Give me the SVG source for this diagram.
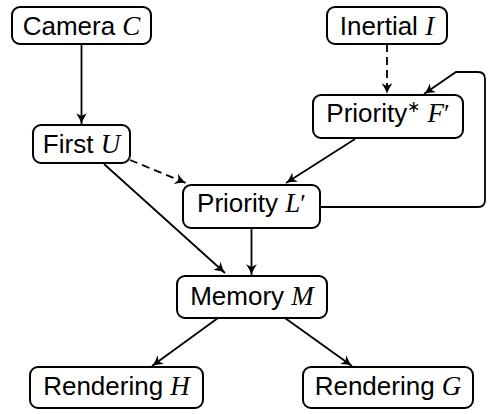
<svg xmlns="http://www.w3.org/2000/svg" width="493" height="414" viewBox="0 0 493 414">
<style>
.box{fill:#fff;stroke:#000;stroke-width:2}
.t{font-family:"Liberation Sans",Arial,sans-serif;font-size:26px;fill:#000;text-anchor:middle}
.m{font-family:"Liberation Serif","Times New Roman",serif;font-style:italic;font-size:27px}
.p{font-family:"Liberation Serif","Times New Roman",serif;font-style:normal}
.e{fill:none;stroke:#000;stroke-width:1.8;marker-end:url(#ah)}
.d{stroke-dasharray:8 5}
</style>
<defs>
<marker id="ah" markerWidth="13" markerHeight="12" refX="10" refY="5" orient="auto" markerUnits="userSpaceOnUse" viewBox="0 0 12 10">
<path d="M0,0 Q6,4 10,5 Q6,6 0,10 L2.5,5 Z" fill="#000"/>
</marker>
</defs>
<g id="connectors">
<path class="e" d="M81.5,44 V124"/>
<path class="e d" d="M387,44 V94"/>
<path class="e" d="M320,207 H478 Q485,207 485,200 V79 Q485,72 478,72 H456 L424,94"/>
<path class="e" d="M355,139 L286,183"/>
<path class="e d" d="M130,160 L186,183"/>
<path class="e" d="M104,164 L225,273"/>
<path class="e" d="M251.5,228 V275"/>
<path class="e" d="M218,318 L152,366"/>
<path class="e" d="M285,318 L352,366"/>
</g>
<g id="camera">
<rect class="box" x="12" y="7" width="139" height="37" rx="8"/>
<text class="t" x="81.5" y="35">Camera <tspan class="m">C</tspan></text>
</g>
<g id="inertial">
<rect class="box" x="327" y="7" width="120" height="37" rx="8"/>
<text class="t" x="387" y="35">Inertial <tspan class="m">I</tspan></text>
</g>
<g id="priorityF">
<rect class="box" x="313" y="95" width="150" height="43" rx="8"/>
<text class="t" x="388" y="122">Priority<tspan font-size="16" dy="-10" class="p">∗</tspan><tspan dy="10"> </tspan><tspan class="m">F</tspan><tspan class="p">′</tspan></text>
</g>
<g id="first">
<rect class="box" x="33" y="125" width="97" height="38" rx="8"/>
<text class="t" x="81.5" y="153">First <tspan class="m">U</tspan></text>
</g>
<g id="priorityL">
<rect class="box" x="183" y="185" width="137" height="43" rx="8"/>
<text class="t" x="251.5" y="212">Priority <tspan class="m">L</tspan><tspan class="p">′</tspan></text>
</g>
<g id="memory">
<rect class="box" x="177" y="276" width="150" height="42" rx="8"/>
<text class="t" x="252" y="305">Memory <tspan class="m">M</tspan></text>
</g>
<g id="renderH">
<rect class="box" x="30" y="367" width="173" height="41" rx="8"/>
<text class="t" x="116.5" y="395">Rendering <tspan class="m">H</tspan></text>
</g>
<g id="renderG">
<rect class="box" x="303" y="367" width="170" height="41" rx="8"/>
<text class="t" x="388" y="395">Rendering <tspan class="m">G</tspan></text>
</g>
</svg>
